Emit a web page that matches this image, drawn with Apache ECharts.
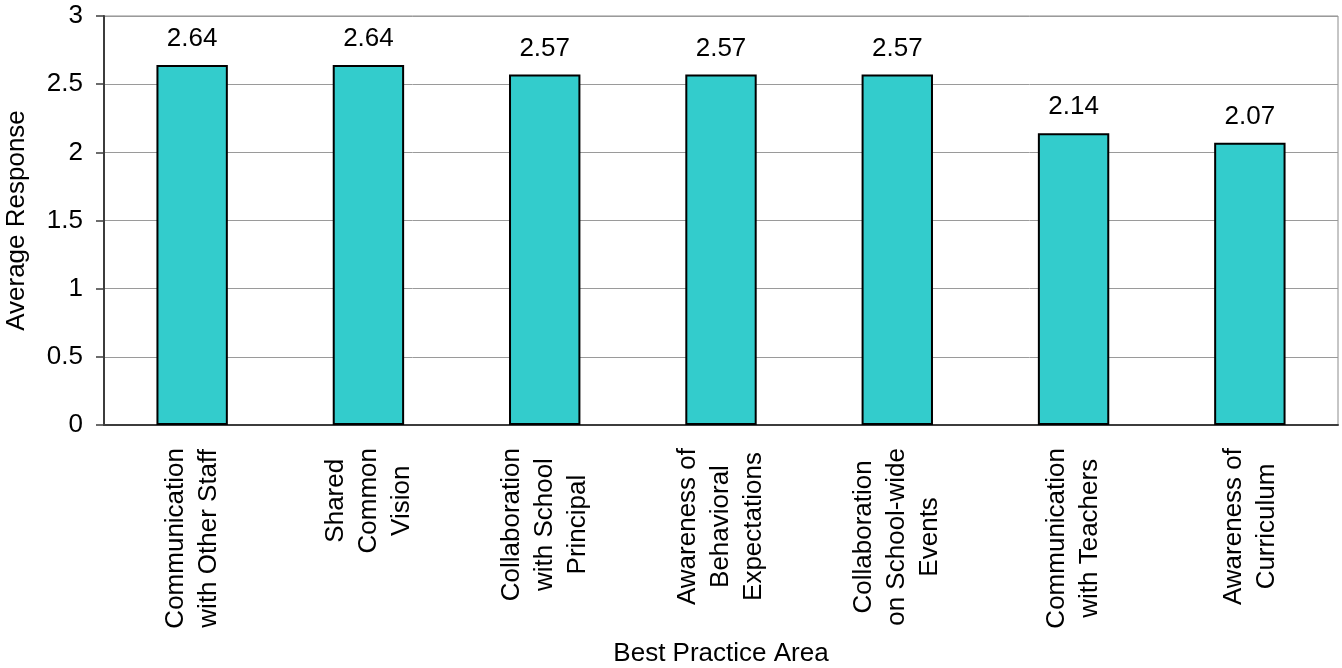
<!DOCTYPE html>
<html>
<head>
<meta charset="utf-8">
<script src="https://cdn.jsdelivr.net/npm/echarts@6/dist/echarts.min.js"></script>
<style>
  html, body { margin: 0; padding: 0; background: #fff; }
  #chart { width: 1342px; height: 668px; }
</style>
</head>
<body>
<div id="chart"></div>
<script>
// Best practice areas and their average responses
const categories = [
  'Communication\nwith Other Staff',
  'Shared\nCommon\nVision',
  'Collaboration\nwith School\nPrincipal',
  'Awareness of\nBehavioral\nExpectations',
  'Collaboration\non School-wide\nEvents',
  'Communication\nwith Teachers',
  'Awareness of\nCurriculum'
];
const averageResponse = [2.64, 2.64, 2.57, 2.57, 2.57, 2.14, 2.07];
const yTicks = { min: 0, max: 3, step: 0.5 };

const FONT = '"Liberation Sans", Arial, Helvetica, sans-serif';
const FS = 26;

const chart = echarts.init(document.getElementById('chart'), null, { renderer: 'canvas' });

chart.setOption({
  animation: false,
  backgroundColor: '#ffffff',
  textStyle: { fontFamily: FONT, color: '#000' },
  grid: {
    left: 104, right: 4, top: 16, bottom: 243,
    show: true, borderColor: '#8c8c8c', borderWidth: 1,
    containLabel: false,
    outerBoundsMode: 'none'
  },
  xAxis: {
    type: 'category',
    data: categories,
    name: 'Best Practice Area',
    nameLocation: 'middle',
    nameGap: 216,
    nameTextStyle: { fontFamily: FONT, fontSize: FS, color: '#000' },
    axisLine: { show: true, lineStyle: { color: '#3c3c3c', width: 2 } },
    axisTick: { show: false },
    axisLabel: {
      interval: 0,
      rotate: 90,
      margin: 23,
      // each line centred inside the label block
      formatter: function (v) {
        return v.split('\n').map(function (s) { return '{c|' + s + '}'; }).join('\n');
      },
      rich: {
        c: { align: 'center', fontFamily: FONT, fontSize: FS, color: '#000', lineHeight: 33 }
      }
    }
  },
  yAxis: {
    type: 'value',
    min: yTicks.min, max: yTicks.max, interval: yTicks.step,
    name: 'Average Response',
    nameLocation: 'middle',
    nameGap: 74,
    nameTextStyle: { fontFamily: FONT, fontSize: FS, color: '#000' },
    axisLine: { show: true, lineStyle: { color: '#3c3c3c', width: 2 } },
    axisTick: { show: true, inside: false, length: 8, lineStyle: { color: '#3c3c3c', width: 1.5 } },
    axisLabel: { margin: 21, fontFamily: FONT, fontSize: FS, color: '#000' },
    splitLine: { show: true, lineStyle: { color: '#9a9a9a', width: 1 } }
  },
  series: [{
    type: 'bar',
    data: averageResponse,
    barWidth: '40.5%',
    itemStyle: { color: '#33CCCC', borderColor: '#000', borderWidth: 2 },
    label: {
      show: true,
      position: 'top',
      distance: 13,
      fontFamily: FONT,
      fontSize: FS,
      color: '#000',
      formatter: function (p) { return p.value.toFixed(2); }
    }
  }]
});
</script>
</body>
</html>
